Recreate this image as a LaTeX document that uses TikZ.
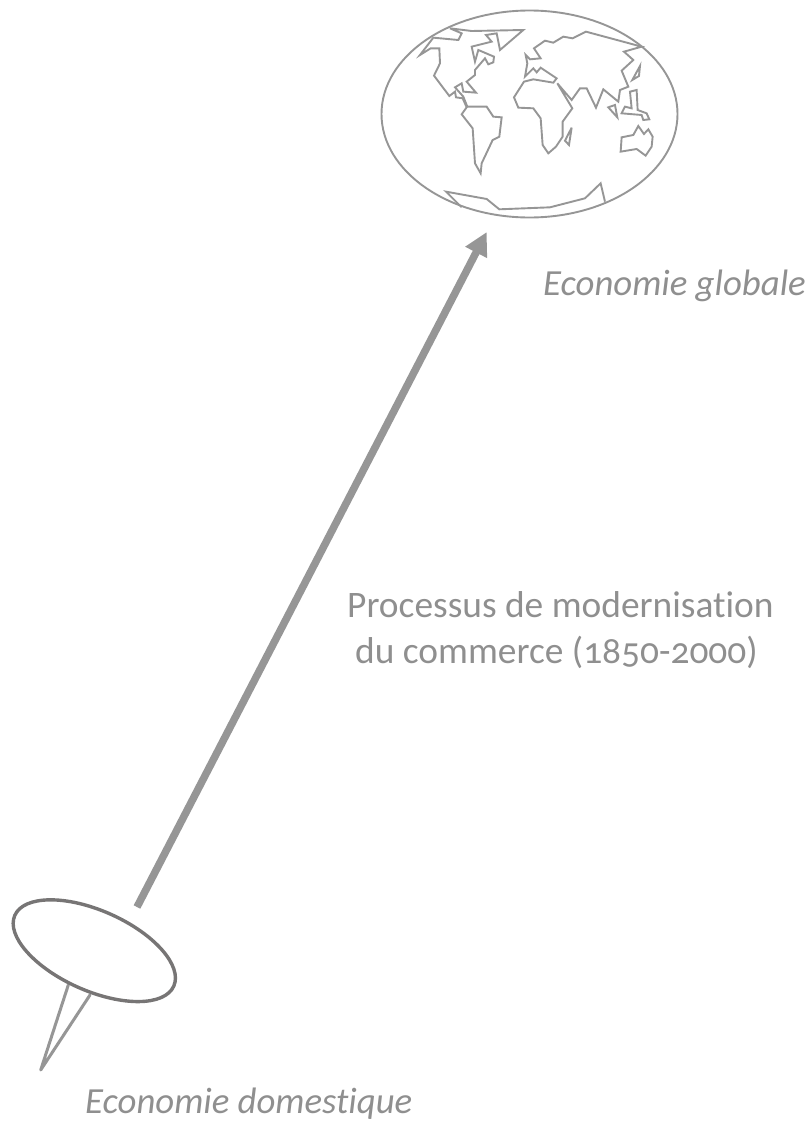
\documentclass[tikz,border=0pt]{standalone}
\usepackage{fontspec}
\setmainfont[Numbers=OldStyle,Ligatures=NoCommon]{Carlito}
\usetikzlibrary{shapes.geometric,arrows.meta}
\definecolor{mapgray}{HTML}{969696}
\definecolor{pingray}{HTML}{777575}
\definecolor{txtgray}{HTML}{8F8F8F}
\tikzset{
  land/.style={draw=mapgray,line width=1.9pt,line join=miter,miter limit=6},
  lbl/.style={text=txtgray,font=\fontsize{37.4}{40}\selectfont,inner sep=0pt,anchor=base west},
  ilbl/.style={lbl,font=\fontsize{36.8}{40}\selectfont\itshape},
  bigarrow/.style={draw=mapgray,line width=7.5pt,-{Triangle[length=23pt,width=23pt]}},
  spike/.style={draw=mapgray,line width=3pt,line cap=round,line join=round}
}
\begin{document}
\begin{tikzpicture}[x=1pt,y=-1pt]
\useasboundingbox (0,0) rectangle (811,1122);
% globe
\node[ellipse,draw=mapgray,line width=1.9pt,minimum width=296pt,minimum height=207pt,inner sep=0pt,outer sep=0pt] (globe) at (529.5,114) {};
\begin{scope}[shift={(370,0)},x=0.3333pt,y=-0.3333pt]
\draw[land] (240,85) -- (305,93) -- (460,90) -- (390,150) -- (380,100) -- (348,105) -- (365,125) -- (305,140) -- (315,185) -- (325,150) -- (372,170) -- (370,187) -- (355,193) -- (345,175) -- (315,210) -- (315,225) -- (290,245) -- (318,278) -- (280,275) -- (275,250) -- (255,262) -- (280,290) -- (292,320) -- (350,320) -- (370,350) -- (395,352) -- (388,410) -- (368,420) -- (335,490) -- (332,520) -- (315,490) -- (308,385) -- (275,343) -- (290,322) -- (278,295) -- (258,292) -- (255,275) -- (238,288) -- (192,227) -- (210,190) -- (208,145) -- (182,145) -- (150,165) -- (190,113) -- (265,120) -- (275,100) -- cycle;
\draw[land] (815,140) -- (648,95) -- (608,115) -- (580,110) -- (550,128) -- (525,122) -- (492,145) -- (512,175) -- (480,178) -- (467,165) -- (472,190) -- (465,230) -- (490,205) -- (500,217) -- (512,203) -- (560,235) -- (550,248) -- (490,238) -- (462,245) -- (432,292) -- (445,323) -- (490,325) -- (512,355) -- (518,435) -- (535,460) -- (558,440) -- (578,410) -- (578,365) -- (607,325) -- (562,250) -- (605,300) -- (630,265) -- (650,265) -- (678,323) -- (700,268) -- (745,305) -- (750,270) -- (775,260) -- (755,212) -- (790,180) -- (762,155) -- cycle;
\draw[land] (605,383) -- (585,422) -- (597,435) -- cycle;
\draw[land] (810,198) -- (787,240) -- (807,228) -- cycle;
\draw[land] (715,322) -- (735,315) -- (742,352) -- cycle;
\draw[land] (780,275) -- (800,270) -- (803,330) -- (830,340) -- (838,358) -- (820,360) -- (815,345) -- (755,340) -- (765,320) -- (785,325) -- cycle;
\draw[land] (805,378) -- (822,402) -- (835,388) -- (848,410) -- (845,440) -- (827,467) -- (800,447) -- (752,455) -- (755,412) -- (790,405) -- cycle;
\draw[land] (275,622) -- (228,575) -- (350,597) -- (388,628) -- (540,622) -- (645,595) -- (692,550) -- (705,605);
\end{scope}
% arrow
\coordinate (arrowstart) at (137,907);
\coordinate (arrowtip) at (486.7,232);
\draw[bigarrow] (arrowstart) -- (arrowtip);
% pin
\coordinate (pinL) at (68.3,985);
\coordinate (pinR) at (90,995);
\coordinate (pinTip) at (40.7,1070);
\draw[spike] (pinL) -- (pinTip) -- (pinR);
\node[ellipse,draw=pingray,fill=white,line width=3.4pt,minimum width=174pt,minimum height=80pt,inner sep=0pt,outer sep=0pt,rotate=-24] (pin) at (94.3,950.7) {};
% labels
\node[ilbl] (global) at (543,295) {Economie globale};
\node[ilbl] (domestic) at (85,1113) {Economie domestique};
\node[lbl] (proc1) at (347,617) {Processus de modernisation};
\node[lbl] (proc2) at (355,663) {du commerce (1850-2000)};
\end{tikzpicture}
\end{document}
